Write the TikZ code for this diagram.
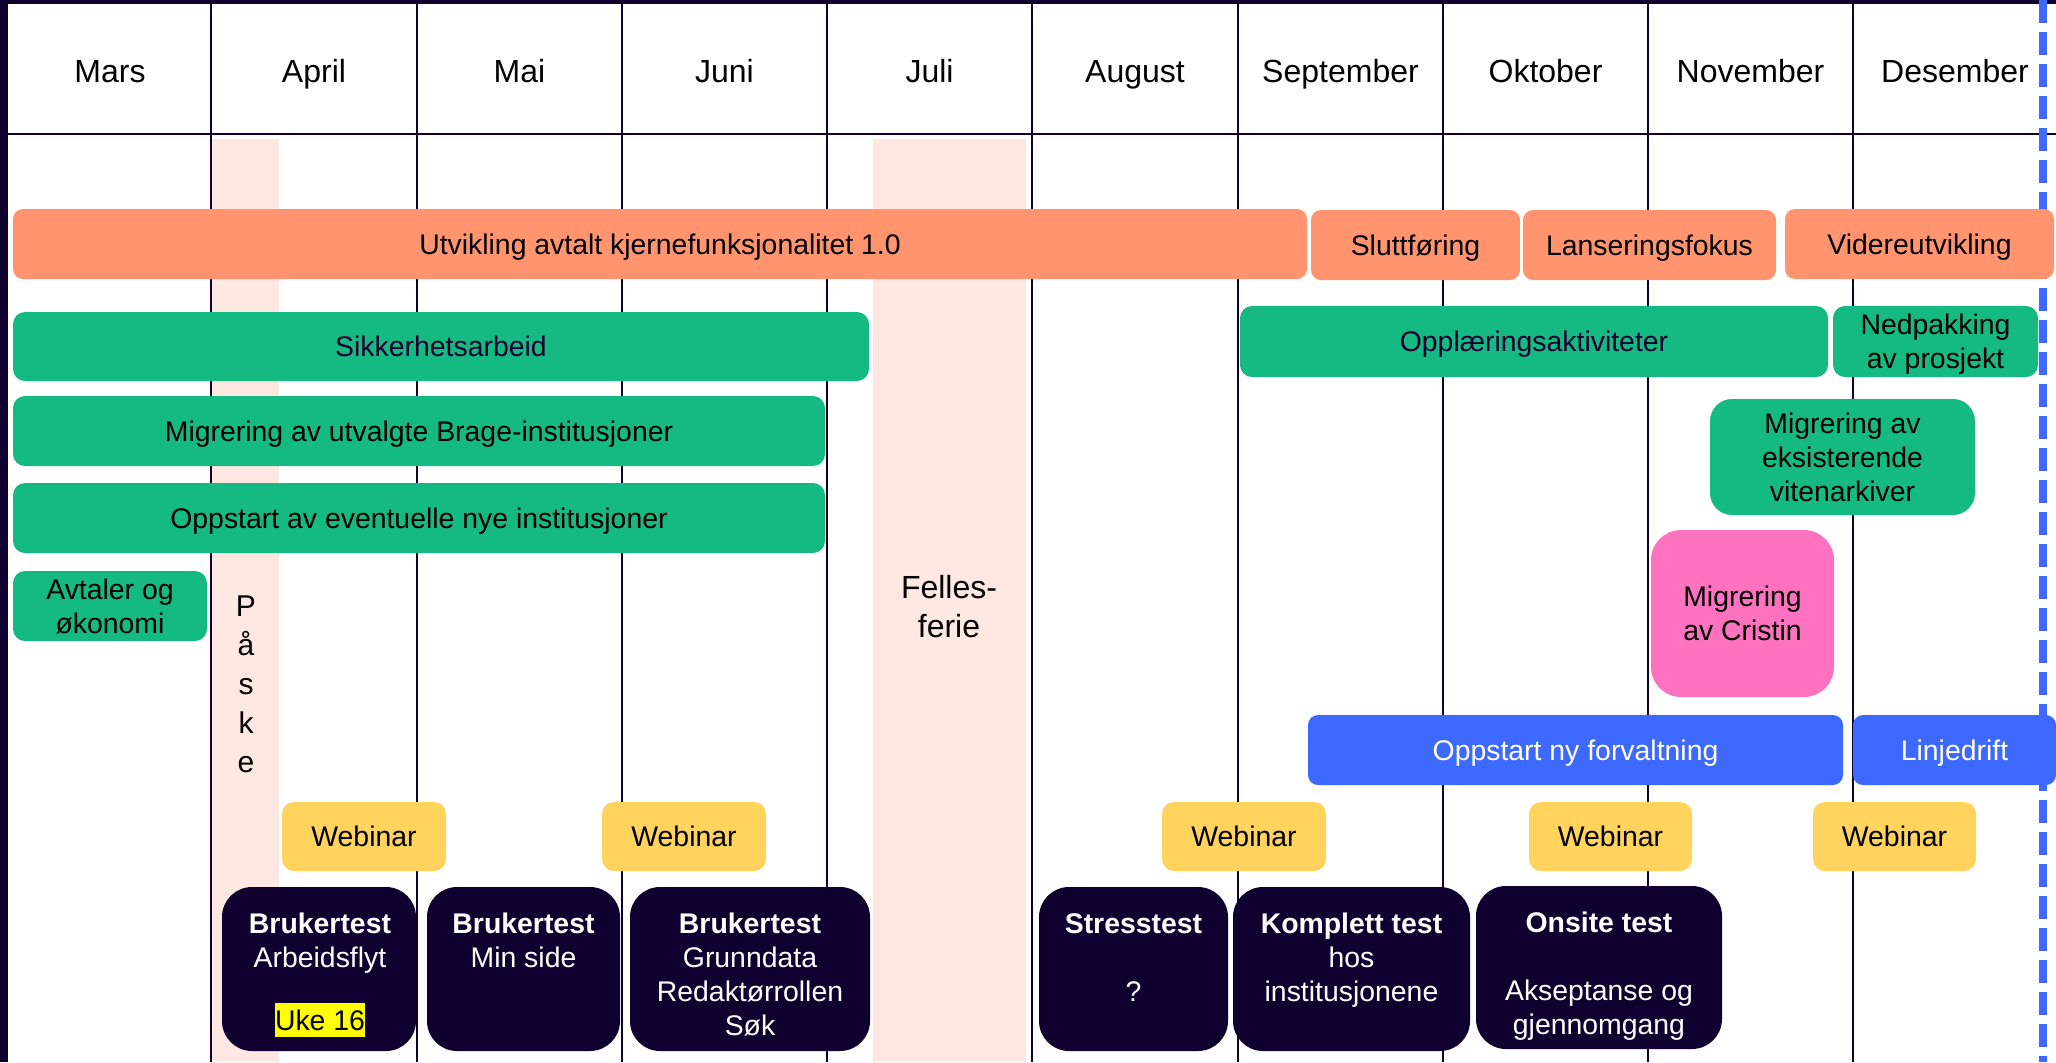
\documentclass[tikz,border=0pt]{standalone}
\usepackage{fontspec}
\setmainfont{Liberation Sans}
\definecolor{cNavy}{HTML}{100030}
\definecolor{cOrange}{HTML}{FF946F}
\definecolor{cGreen}{HTML}{15BA82}
\definecolor{cPink}{HTML}{FF72C0}
\definecolor{cBlue}{HTML}{3D69FF}
\definecolor{cYellow}{HTML}{FFD35C}
\definecolor{cStrip}{HTML}{FFE8E2}
\definecolor{cHl}{HTML}{FFFF00}
\newcommand\fbody{\fontsize{14.2}{17}\selectfont}
\newcommand\fhead{\fontsize{16}{19}\selectfont}
\newcommand\fbig{\fontsize{15}{19.5}\selectfont}
\newcommand\ffer{\fontsize{16}{19.5}\selectfont}
\newcommand\bstrut{\rule[-3.4pt]{0pt}{17pt}}
\newcommand\gstrut{\rule[-4.38pt]{0pt}{19.5pt}}
\newcommand{\mkbox}[7]{\node[#1, minimum width={0.5pt*(#5-#3)}, minimum height={0.5pt*(#6-#4)}] (#2) at ({(#3+#5)/2},{(#4+#6)/2}) {#7};}
\begin{document}
\begin{tikzpicture}[x=0.5pt,y=-0.5pt,
  bar/.style={inner sep=0pt, align=center, font=\fbody, text=black},
  orangebar/.style={bar, fill=cOrange, rounded corners=5pt},
  greenbar/.style={bar, fill=cGreen, rounded corners=6pt},
  greenround/.style={bar, fill=cGreen, rounded corners=11pt},
  pinkbox/.style={bar, fill=cPink, rounded corners=15pt},
  bluebar/.style={bar, fill=cBlue, rounded corners=5pt, text=white},
  webbox/.style={bar, fill=cYellow, rounded corners=6pt},
  darkbox/.style={bar, fill=cNavy, rounded corners=15pt},
  darktext/.style={inner sep=0pt, align=center, font=\fbody, text=white, anchor=north},
  month/.style={font=\fhead, text=black, inner sep=0pt, anchor=base},
  bigtext/.style={font=\fbig, text=black, inner sep=0pt, align=center},
  gridline/.style={draw=cNavy, line width=1.25pt},
]
\useasboundingbox (0,0) rectangle (2056,1062);
\fill[white] (0,0) rectangle (2056,1062);
% holiday strips
\fill[cStrip] (212,139) rectangle (279,1062);
\fill[cStrip] (873,139) rectangle (1026,1062);
% grid
\foreach \x in {211,417,622,827,1032,1238,1443,1648,1853} \draw[gridline] (\x,0) -- (\x,1062);
\draw[gridline] (8,134) -- (2056,134);
\fill[cNavy] (0,0) rectangle (2056,4);
\fill[cNavy] (0,0) rectangle (8,1062);
\draw[cBlue, line width=4pt, dash pattern=on 11.5pt off 4.5pt] (2043,0) -- (2043,1062);
% months
\node[month] (m1) at (110,82) {Mars};
\node[month] (m2) at (314,82) {April};
\node[month] (m3) at (519.5,82) {Mai};
\node[month] (m4) at (724.5,82) {Juni};
\node[month] (m5) at (929.5,82) {Juli};
\node[month] (m6) at (1135,82) {August};
\node[month] (m7) at (1340.5,82) {September};
\node[month] (m8) at (1545.5,82) {Oktober};
\node[month] (m9) at (1750.5,82) {November};
\node[month] (m10) at (1955,82) {Desember};
% holiday labels
\node[bigtext] (paske) at (246,684) {\gstrut P\\\gstrut å\\\gstrut s\\\gstrut k\\\gstrut e};
\node[bigtext, font=\ffer] (ferie) at (949,607.5) {\gstrut Felles-\\\gstrut ferie};
% orange bars
\mkbox{orangebar}{utv}{13}{209}{1307}{279}{\bstrut Utvikling avtalt kjernefunksjonalitet 1.0}
\mkbox{orangebar}{slu}{1311}{210}{1520}{280}{\bstrut Sluttføring}
\mkbox{orangebar}{lan}{1523}{210}{1776}{280}{\bstrut Lanseringsfokus}
\mkbox{orangebar}{vid}{1785}{209}{2054}{279}{\bstrut Videreutvikling}
% green bars
\mkbox{greenbar, text=cNavy}{sik}{13}{312}{869}{381}{\bstrut Sikkerhetsarbeid}
\mkbox{greenbar}{bra}{13}{396}{825}{466}{\bstrut Migrering av utvalgte Brage-institusjoner}
\mkbox{greenbar}{opp}{13}{483}{825}{553}{\bstrut Oppstart av eventuelle nye institusjoner}
\mkbox{greenbar}{avt}{13}{571}{207}{641}{\bstrut Avtaler og\\\bstrut økonomi}
\mkbox{greenbar, text=cNavy}{opl}{1240}{306}{1828}{377}{\bstrut Opplæringsaktiviteter}
\mkbox{greenbar}{ned}{1833}{306}{2038}{377}{\bstrut Nedpakking\\\bstrut av prosjekt}
\mkbox{greenround}{eks}{1710}{399}{1975}{515}{\bstrut Migrering av\\\bstrut eksisterende\\\bstrut vitenarkiver}
% pink
\mkbox{pinkbox}{cri}{1651}{530}{1834}{697}{\bstrut Migrering\\\bstrut av Cristin}
% blue
\mkbox{bluebar}{onf}{1308}{715}{1843}{785}{\bstrut Oppstart ny forvaltning}
\mkbox{bluebar}{lin}{1853}{715}{2056}{785}{\bstrut Linjedrift}
% webinars
\mkbox{webbox}{w1}{282}{802}{446}{871}{\bstrut Webinar}
\mkbox{webbox}{w2}{602}{802}{766}{871}{\bstrut Webinar}
\mkbox{webbox}{w3}{1162}{802}{1326}{871}{\bstrut Webinar}
\mkbox{webbox}{w4}{1529}{802}{1692}{871}{\bstrut Webinar}
\mkbox{webbox}{w5}{1813}{802}{1976}{871}{\bstrut Webinar}
% test boxes
\mkbox{darkbox}{bt1}{222}{887}{416}{1051}{}
\mkbox{darkbox}{bt2}{427}{887}{620}{1051}{}
\mkbox{darkbox}{bt3}{630}{887}{870}{1051}{}
\mkbox{darkbox}{st}{1039}{887}{1228}{1051}{}
\mkbox{darkbox}{kt}{1233}{887}{1470}{1051}{}
\mkbox{darkbox}{os}{1476}{886}{1722}{1049}{}
\node[darktext] (bt1t) at (320,906) {\bstrut\textbf{Brukertest}\\\bstrut Arbeidsflyt\\\bstrut~\\[-2.5pt]{\fboxsep=0pt\colorbox{cHl}{\color{black}\bstrut Uke 16}}};
\node[darktext] (bt2t) at (523.5,906) {\bstrut\textbf{Brukertest}\\\bstrut Min side};
\node[darktext] (bt3t) at (750,906) {\bstrut\textbf{Brukertest}\\\bstrut Grunndata\\\bstrut Redaktørrollen\\\bstrut Søk};
\node[darktext] (stt) at (1133.5,906) {\bstrut\textbf{Stresstest}\\\bstrut~\\\bstrut ?};
\node[darktext] (ktt) at (1351.5,906) {\bstrut\textbf{Komplett test}\\\bstrut hos\\\bstrut institusjonene};
\node[darktext] (ost) at (1599,905) {\bstrut\textbf{Onsite test}\\\bstrut~\\\bstrut Akseptanse og\\\bstrut gjennomgang};
\end{tikzpicture}
\end{document}
